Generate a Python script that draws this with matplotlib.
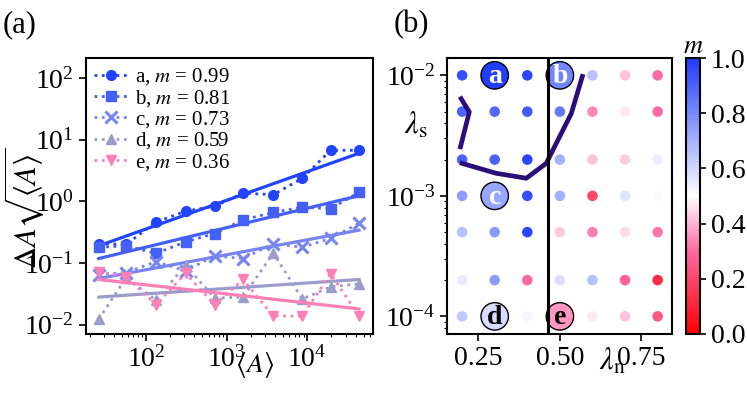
import numpy as np
import matplotlib
matplotlib.use("Agg")
import matplotlib.pyplot as plt
from matplotlib.colors import LinearSegmentedColormap
from matplotlib.ticker import LogLocator, NullFormatter, FixedLocator

plt.rcParams["font.family"] = "serif"
plt.rcParams["font.serif"] = ["Liberation Serif", "DejaVu Serif"]
plt.rcParams["mathtext.fontset"] = "stix"
plt.rcParams["axes.unicode_minus"] = False

# ── panel (a) data ───────────────────────────────────────────────────────────
mean_A = [26, 57, 133, 310, 710, 1600, 3800, 8700, 19500, 44000]

series_names = ["a", "b", "c", "d", "e"]
series_m = [0.99, 0.81, 0.73, 0.59, 0.36]
series_markers = ["o", "s", "x", "^", "v"]
series_colors = ["#2244ff", "#4460f6", "#7884f0", "#9c9cca", "#ff80b6"]

dA_a = [0.205, 0.20, 0.46, 0.69, 0.83, 1.35, 1.28, 2.35, 6.7, 6.7]
dA_b = [0.18, 0.19, 0.143, 0.22, 0.30, 0.50, 0.66, 0.80, 0.76, 1.40]
dA_c = [0.065, 0.07, 0.105, 0.075, 0.13, 0.118, 0.205, 0.18, 0.25, 0.44]
dA_d = [0.0123, 0.058, 0.025, 0.092, 0.027, 0.028, 0.145, 0.026, 0.041, 0.046]
dA_e = [0.072, 0.06, 0.021, 0.068, 0.021, 0.054, 0.0138, 0.0138, 0.067, 0.0138]

# fitted power-law lines, value at first and last <A>
fit_a = [0.19, 6.0]
fit_b = [0.118, 1.23]
fit_c = [0.056, 0.34]
fit_d = [0.028, 0.054]
fit_e = [0.054, 0.018]

# ── panel (b) data ───────────────────────────────────────────────────────────
lam_n = [0.2, 0.3, 0.4, 0.5, 0.6, 0.7, 0.8]
lam_s = [1e-2, 5e-3, 2e-3, 1e-3, 5e-4, 2e-4, 1e-4]
m_grid = [
    [0.95, 0.99, 0.97, 0.81, 0.66, 0.42, 0.30],
    [0.90, 0.88, 0.92, 0.84, 0.34, 0.47, 0.30],
    [0.90, 0.90, 0.97, 0.70, 0.42, 0.43, 0.54],
    [0.75, 0.73, 0.95, 0.70, 0.20, 0.57, 0.51],
    [0.66, 0.76, 0.97, 0.43, 0.33, 0.45, 0.32],
    [0.55, 0.75, 0.30, 0.58, 0.66, 0.28, 0.12],
    [0.64, 0.59, 0.52, 0.36, 0.47, 0.42, 0.25],
]

lab_names = ["a", "b", "c", "d", "e"]
lab_n = [0.3, 0.5, 0.3, 0.3, 0.5]
lab_s = [1e-2, 1e-2, 1e-3, 1e-4, 1e-4]
lab_m = [0.99, 0.81, 0.73, 0.59, 0.36]
lab_text_colors = ["white", "white", "white", "black", "black"]

boundary1_n = [0.197, 0.222, 0.195]
boundary1_s = [6.4e-3, 4.97e-3, 2.55e-3]
boundary2_n = [0.200, 0.304, 0.397, 0.458, 0.535, 0.569]
boundary2_s = [1.86e-3, 1.54e-3, 1.40e-3, 1.86e-3, 4.82e-3, 9.8e-3]
transition_n = 0.463

cmap = LinearSegmentedColormap.from_list(
    "m_cmap", [(0.0, "#ff0000"), (0.3, "#ff6aa2"), (0.5, "#ffffff"), (1.0, "#1e3cff")])

# ── figure ───────────────────────────────────────────────────────────────────
fig = plt.figure(figsize=(7.47, 3.98), dpi=100)
ax_a = fig.add_axes([0.115, 0.161, 0.384, 0.693])
ax_b = fig.add_axes([0.599, 0.161, 0.301, 0.693])
cax = fig.add_axes([0.919, 0.161, 0.0187, 0.693])

# panel (a)
all_dA = [dA_a, dA_b, dA_c, dA_d, dA_e]
all_fit = [fit_a, fit_b, fit_c, fit_d, fit_e]
for name, m, mk, col, vals, fit in zip(series_names, series_m, series_markers,
                                        series_colors, all_dA, all_fit):
    ms = 8 if mk == "x" else 7
    ax_a.plot(mean_A, vals, linestyle=":", linewidth=2.0, color=col, marker=mk,
              markersize=ms, markeredgewidth=2.2 if mk == "x" else 1.0,
              label=f"{name}, $m$ = {m:.2f}")
    ax_a.plot([mean_A[0], mean_A[-1]], fit, linestyle="-", linewidth=2.3, color=col)

ax_a.set_xscale("log")
ax_a.set_yscale("log")
ax_a.set_xlim(18, 65000)
ax_a.set_ylim(10 ** -2.15, 10 ** 2.32)
ax_a.xaxis.set_major_locator(FixedLocator([1e2, 1e3, 1e4]))
ax_a.yaxis.set_major_locator(FixedLocator([1e-2, 1e-1, 1e0, 1e1, 1e2]))
ax_a.legend(loc="upper left", frameon=False, fontsize=15, labelspacing=0.02,
            handlelength=1.6, handletextpad=0.35, borderaxespad=0.2,
            borderpad=0.2)

# panel (b)
ln_grid, ls_grid = np.meshgrid(lam_n, lam_s)
ax_b.scatter(ln_grid.ravel(), ls_grid.ravel(), c=np.array(m_grid).ravel(),
             cmap=cmap, vmin=0, vmax=1, s=58, edgecolors="none", zorder=2)
ax_b.scatter(lab_n, lab_s, c=lab_m, cmap=cmap, vmin=0, vmax=1, s=390,
             edgecolors="black", linewidths=1.0, zorder=3)
for name, x, y, tc in zip(lab_names, lab_n, lab_s, lab_text_colors):
    ax_b.text(x, y * 0.97, name, ha="center", va="center", fontsize=20,
              fontweight="bold", color=tc, zorder=4)
ax_b.plot(boundary1_n, boundary1_s, color="#2a0f7c", linewidth=3.4, zorder=5)
ax_b.plot(boundary2_n, boundary2_s, color="#2a0f7c", linewidth=3.4, zorder=5)
ax_b.axvline(transition_n, color="black", linewidth=2.2, zorder=6)

ax_b.set_yscale("log")
ax_b.set_xlim(0.155, 0.845)
ax_b.set_ylim(7.15e-5, 1.39e-2)
ax_b.set_xticks([0.25, 0.50, 0.75])
ax_b.set_xticklabels(["0.25", "0.50", "0.75"])
ax_b.yaxis.set_major_locator(FixedLocator([1e-4, 1e-3, 1e-2]))

for ax in (ax_a, ax_b):
    for sp in ax.spines.values():
        sp.set_linewidth(1.5)
    ax.tick_params(which="major", length=5, width=1.2, labelsize=20, direction="out")
    ax.tick_params(which="minor", length=2.5, width=0.8, direction="out")
    ax.yaxis.set_minor_locator(LogLocator(base=10, subs=np.arange(2, 10)))
    ax.yaxis.set_minor_formatter(NullFormatter())
ax_a.xaxis.set_minor_locator(LogLocator(base=10, subs=np.arange(2, 10)))
ax_a.xaxis.set_minor_formatter(NullFormatter())

# colorbar
sm = plt.cm.ScalarMappable(cmap=cmap, norm=plt.Normalize(0, 1))
cb = fig.colorbar(sm, cax=cax, ticks=[0.0, 0.2, 0.4, 0.6, 0.8, 1.0])
cb.ax.set_yticklabels(["0.0", "0.2", "0.4", "0.6", "0.8", "1.0"])
cb.ax.tick_params(labelsize=20, length=4, width=1.2)
cb.outline.set_linewidth(1.5)
cax.text(0.5, 1.0, "$m$", transform=cax.transAxes, ha="center", va="bottom",
         fontsize=19)

# labels
fig.text(0.004, 0.975, "(a)", fontsize=22, va="top", ha="left")
fig.text(0.527, 0.975, "(b)", fontsize=22, va="top", ha="left")
fig.text(0.032, 1 - 208 / 398, r"$\Delta A\sqrt{\langle A\rangle}$", fontsize=22,
         rotation=90, ha="center", va="center")
fig.text(255 / 747, 1 - 365 / 398, r"$\langle A\rangle$", fontsize=20,
         ha="center", va="center")
fig.text(612 / 747, 1 - 362 / 398, r"$\lambda_{\rm n}$", fontsize=22,
         ha="center", va="center")
fig.text(416 / 747, 1 - 126 / 398, r"$\lambda_{\rm s}$", fontsize=22,
         ha="center", va="center")

fig.savefig("out.png", dpi=100)
